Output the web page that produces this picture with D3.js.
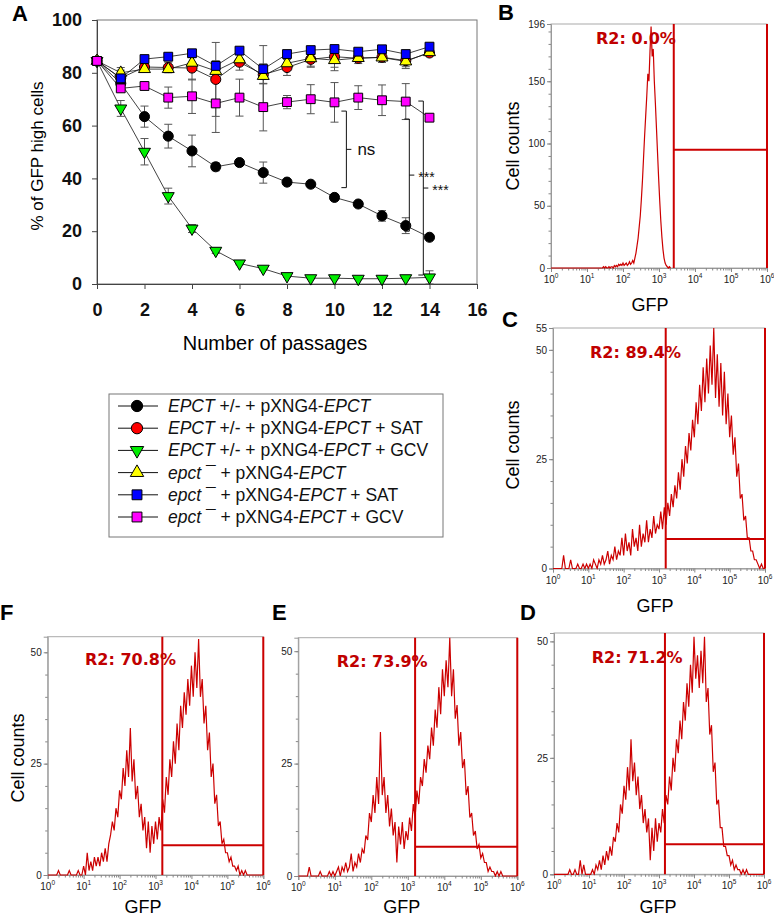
<!DOCTYPE html>
<html><head><meta charset="utf-8">
<script src="https://cdn.jsdelivr.net/npm/d3@7"></script>
<style>body{margin:0;background:#fff} svg{display:block}</style>
</head><body>
<svg id="fig" width="774" height="920"></svg>
<script>
// ---------------- DATA: panel A ----------------
const passages = [0,1,2,3,4,5,6,7,8,9,10,11,12,13,14];
const xTicksA = [0,2,4,6,8,10,12,14,16];
const yTicksA = [0,20,40,60,80,100];
const blackVals   = [84.5,76,63.4,56,50.4,44.4,46,42.2,38.6,37.8,32.8,30.3,25.8,22.1,17.7];
const blackErr    = [0,0,4,4.5,6,1.5,0.5,4,0.5,0.5,0.5,0.5,2,3,0.5];
const redVals     = [84.5,78,82.2,82,81.8,77.5,84,79.3,82,85.1,86.1,85.5,85.9,84.6,87.5];
const redErr      = [0,3,2,2,4.5,14,3,11,3,3,4,2,2,3,1];
const greenVals   = [84.5,66.5,50.1,33.3,21,12.6,7.8,5.8,3,2.2,2.2,2,2,2.2,2.5];
const greenErr    = [0,3,5,3,1.5,1,0.5,0.5,0.5,0.3,0.3,0.3,0.3,0.3,2.5];
const yellowVals  = [84.5,80,81.4,81.4,83.8,80.7,85.1,78.8,83.6,85.5,84.8,85.6,85.8,84.3,87.8];
const yellowErr   = [0,2,1,1,2,3,2,3,2,3,4,1,1,2,1];
const blueVals    = [84.5,77.9,85.2,86.1,87.4,82.6,88.4,81.4,87.1,88.6,89,88,88.9,87.1,89.9];
const blueErr     = [0,2,1,1,1,2,1,2,1,1,1,1,1,1,1];
const magentaVals = [84.5,74.1,75,70.6,71.1,68.4,70.6,67,68.9,70,68.8,70.6,69.6,69.1,63];
const magentaErr  = [0,1,0,4,6.5,11,7,9,2.5,5.5,7.5,4.5,5.8,6.8,0];
const legendLabels = [
  [["EPCT",1],[" +/- + pXNG4-",0],["EPCT",1]],
  [["EPCT",1],[" +/- + pXNG4-",0],["EPCT",1],[" + SAT",0]],
  [["EPCT",1],[" +/- + pXNG4-",0],["EPCT",1],[" + GCV",0]],
  [["epct",1],[" \u00AF",0],[" + pXNG4-",0],["EPCT",1]],
  [["epct",1],[" \u00AF",0],[" + pXNG4-",0],["EPCT",1],[" + SAT",0]],
  [["epct",1],[" \u00AF",0],[" + pXNG4-",0],["EPCT",1],[" + GCV",0]]
];
const bracketX = [10.5, 13.15, 13.74];
const bracketTop = [65.5, 62.5, 69.3];
const bracketBottom = [36.5, 20, 3.4];
const bracketLabels = ["ns","***","***"];

// ---------------- DATA: flow histograms (counts per log10 bin) ----------------
const bCounts = [0,0,1,0,1,0,0,1,0,1,1,0,2,1,2,1,3,2,3,2,4,2,3,4,2,3,5,3,4,6,4,
  8,12,18,24,33,42,55,70,88,106,122,138,156,150,174,194,170,176,150,132,112,92,72,54,38,25,15,8,4,2,1,0,1,0];
const cCounts = [0,0,0,0,0,0,
  3,0,0,0,2,0,0,0,1,0,0,1,0,1,
  0,1,0,2,1,0,2,1,3,1,2,4,1,3,2,5,2,4,3,7,
  3,8,4,6,3,9,5,7,4,10,5,8,6,11,6,9,7,12,8,10,
  9,13,9,14,10,15,12,17,14,19,16,22,18,25,21,28,24,31,27,34,
  30,38,33,42,36,46,38,48,40,51,42,55,39,49,37,47,35,45,33,40,
  30,35,26,30,21,24,16,17,11,12,7,7,4,4,2,2,1,0,1,0,
  0];
const dCounts = [0,0,0,0,0,0,
  0,0,0,1,0,0,1,0,0,3,0,2,0,0,
  0,0,1,0,2,1,3,1,4,2,5,3,6,4,8,7,11,9,15,13,
  19,16,23,18,29,20,24,17,21,14,17,11,14,9,12,3,10,5,12,7,
  11,9,14,11,17,15,21,18,25,22,29,26,33,29,37,33,41,36,45,39,
  51,42,47,40,48,41,51,37,40,30,32,22,24,15,16,10,10,6,6,4,
  4,2,3,1,2,1,1,0,1,0,1,0,0,0,0,0,0,0,0,0,
  0];
const eCounts = [0,0,0,0,0,0,
  2,0,0,0,0,0,1,0,0,0,0,1,0,1,
  0,1,2,0,2,1,3,1,2,5,1,3,2,5,3,6,5,9,8,14,
  12,18,14,22,16,32,18,22,14,18,11,15,9,12,3,11,7,12,6,10,
  8,13,10,16,13,19,16,22,20,26,23,29,26,33,29,37,33,42,36,46,
  40,48,42,53,40,46,35,38,29,32,24,26,18,20,13,14,9,10,6,7,
  4,5,3,3,1,2,1,1,0,1,0,1,0,0,0,0,0,0,0,0,
  0];
const fCounts = [0,0,0,0,0,0,
  1,0,0,0,0,0,1,0,0,0,0,1,0,0,
  2,0,5,1,3,1,4,2,4,2,5,3,6,3,7,9,12,10,15,13,
  19,17,24,20,28,22,33,21,26,17,20,13,16,10,13,6,12,5,11,7,
  12,8,13,10,17,14,22,18,26,22,30,25,34,28,38,33,41,36,44,38,
  47,40,50,42,53,40,44,34,38,28,32,22,25,16,18,11,12,7,8,5,
  5,3,4,2,2,1,2,0,1,0,1,0,0,0,0,0,0,0,0,0,
  0];
const logDecades = [0,1,2,3,4,5,6];

// ---------------- DRAWING ----------------
const svg = d3.select("#fig");
const FONT = "Arial, 'Liberation Sans', Helvetica, sans-serif";
const RED = "#cc0000";

// ===== Panel A =====
const xA = d3.scaleLinear().domain([0,16]).range([97,477]);
const yA = d3.scaleLinear().domain([0,100]).range([284,20]);
const gA = svg.append("g");
gA.append("rect").attr("x",xA(0)).attr("y",yA(100)).attr("width",xA(16)-xA(0)).attr("height",yA(0)-yA(100))
  .attr("fill","none").attr("stroke","#777").attr("stroke-width",1);
const axYA = gA.append("g").attr("transform",`translate(${xA(0)},0)`)
  .call(d3.axisLeft(yA).tickValues(yTicksA).tickSize(5).tickPadding(10));
const axXA = gA.append("g").attr("transform",`translate(0,${yA(0)})`)
  .call(d3.axisBottom(xA).tickValues(xTicksA).tickSize(5).tickPadding(14));
[axYA,axXA].forEach(a=>{
  a.selectAll("text").attr("font-family",FONT).attr("font-size",18).attr("font-weight","bold").attr("fill","#111");
  a.select(".domain").attr("stroke","#444");
  a.selectAll(".tick line").attr("stroke","#444");
});
gA.append("text").attr("x",(xA(0)+xA(16))/2 - 12).attr("y",350).attr("text-anchor","middle")
  .attr("font-family",FONT).attr("font-size",20).text("Number of passages");
gA.append("text").attr("transform",`translate(43,${(yA(0)+yA(100))/2 + 4}) rotate(-90)`).attr("text-anchor","middle")
  .attr("font-family",FONT).attr("font-size",17).text("% of GFP high cells");
svg.append("text").attr("x",12).attr("y",21).attr("font-family",FONT).attr("font-size",22).attr("font-weight","bold").text("A");

const seriesA = [
  {vals:blackVals, err:blackErr, fill:"#000000", sym:d3.symbolCircle, size:80, rot:0},
  {vals:greenVals, err:greenErr, fill:"#00ee00", sym:d3.symbolTriangle, size:62, rot:180},
  {vals:redVals, err:redErr, fill:"#ff0000", sym:d3.symbolCircle, size:80, rot:0},
  {vals:yellowVals, err:yellowErr, fill:"#ffff00", sym:d3.symbolTriangle, size:62, rot:0},
  {vals:blueVals, err:blueErr, fill:"#0000ff", sym:d3.symbolSquare, size:78, rot:0},
  {vals:magentaVals, err:magentaErr, fill:"#ff00ff", sym:d3.symbolSquare, size:78, rot:0}
];
const lineA = d3.line().x((d,i)=>xA(passages[i])).y(d=>yA(d));
seriesA.forEach(s=>{
  const g = gA.append("g").attr("stroke","#555").attr("stroke-width",1);
  s.vals.forEach((v,i)=>{
    const e = s.err[i]; if(!e) return;
    const cx = xA(passages[i]);
    g.append("line").attr("x1",cx).attr("x2",cx).attr("y1",yA(v-e)).attr("y2",yA(v+e));
    g.append("line").attr("x1",cx-4).attr("x2",cx+4).attr("y1",yA(v-e)).attr("y2",yA(v-e));
    g.append("line").attr("x1",cx-4).attr("x2",cx+4).attr("y1",yA(v+e)).attr("y2",yA(v+e));
  });
});
seriesA.forEach(s=>{
  gA.append("path").attr("d",lineA(s.vals)).attr("fill","none").attr("stroke","#111").attr("stroke-width",0.8);
});
seriesA.forEach(s=>{
  gA.append("g").selectAll("path").data(s.vals).join("path")
    .attr("d",d3.symbol().type(s.sym).size(s.size))
    .attr("transform",(d,i)=>`translate(${xA(passages[i])},${yA(d)}) rotate(${s.rot})`)
    .attr("fill",s.fill).attr("stroke","#000").attr("stroke-width",1);
});
bracketX.forEach((bx,i)=>{
  const x = xA(bx), y0 = yA(bracketTop[i]), y1 = yA(bracketBottom[i]), ym = (y0+y1)/2;
  gA.append("path").attr("d",`M${x-5},${y0}H${x}V${y1}H${x-5}M${x},${ym}H${x+5}`)
    .attr("fill","none").attr("stroke","#111").attr("stroke-width",1);
  const big = bracketLabels[i]==="ns";
  gA.append("text").attr("x",x+(big?11:9)).attr("y",ym+(big?6:7)).attr("font-family",FONT)
    .attr("font-size",big?17:14).attr("fill","#111").text(bracketLabels[i]);
});
const legX = 109, legY = 394, rowH = 22.2;
gA.append("rect").attr("x",legX).attr("y",legY).attr("width",334).attr("height",143)
  .attr("fill","#fff").attr("stroke","#777");
[0,1,2,3,4,5].forEach(k=>{
  const order = [0,2,1,3,4,5][k];
  const s = seriesA[order];
  const cy = legY + 12 + rowH*k;
  gA.append("line").attr("x1",legX+9).attr("x2",legX+49).attr("y1",cy).attr("y2",cy).attr("stroke","#111");
  gA.append("path").attr("d",d3.symbol().type(s.sym).size(s.size*1.25)()).attr("transform",`translate(${legX+28},${cy}) rotate(${s.rot})`)
    .attr("fill",s.fill).attr("stroke","#000");
  const t = gA.append("text").attr("x",legX+59).attr("y",cy+6).attr("font-family",FONT).attr("font-size",17.5).attr("fill","#111");
  legendLabels[k].forEach(p=>t.append("tspan").attr("font-style",p[1]?"italic":"normal").text(p[0]));
});

// ===== Flow panels =====
const flowPanels = [
  {label:"B", counts:bCounts, startLog:1.40, stepLog:0.03, ymax:196, yMajor:[0,50,100,150,196], yMinorStep:10,
   gateLog:3.41, gateLevel:95, r2:"R2: 0.0%", box:[551,24,767,268], labelPos:[498,20], r2Pos:[596,44], cellPos:[513,146], gfpPos:[650,311]},
  {label:"C", counts:cCounts, startLog:0, stepLog:0.05, ymax:55, yMajor:[0,25,50,55], yMinorStep:5,
   gateLog:3.19, gateLevel:6.75, r2:"R2: 89.4%", box:[553,328,765,568.5], labelPos:[502,327], r2Pos:[590,358], cellPos:[513,445], gfpPos:[655,612]},
  {label:"D", counts:dCounts, startLog:0, stepLog:0.05, ymax:51.8, yMajor:[0,25,50], yMinorStep:5,
   gateLog:3.17, gateLevel:6.45, r2:"R2: 71.2%", box:[554,633,764,874.3], labelPos:[520,620], r2Pos:[591.7,663], cellPos:null, gfpPos:[658,913]},
  {label:"E", counts:eCounts, startLog:0, stepLog:0.05, ymax:53, yMajor:[0,25,50], yMinorStep:5,
   gateLog:3.2, gateLevel:6.5, r2:"R2: 73.9%", box:[298.3,637.7,517.3,876], labelPos:[272,620], r2Pos:[336.7,666.7], cellPos:null, gfpPos:[401.7,913]},
  {label:"F", counts:fCounts, startLog:0, stepLog:0.05, ymax:53.5, yMajor:[0,25,50], yMinorStep:5,
   gateLog:3.19, gateLevel:6.7, r2:"R2: 70.8%", box:[47.7,636.7,263.3,875], labelPos:[0,620], r2Pos:[85,665], cellPos:[18,758], gfpPos:[143,913]}
];

flowPanels.forEach((p,pi)=>{
  const [l,t,r,b] = p.box;
  const x = d3.scaleLog().domain([1,1e6]).range([l,r]);
  const y = d3.scaleLinear().domain([0,p.ymax]).range([b,t]);
  const g = svg.append("g");
  const cid = "clip"+pi;
  g.append("clipPath").attr("id",cid).append("rect").attr("x",l).attr("y",t-1).attr("width",r-l+1).attr("height",b-t+2);
  g.append("rect").attr("x",l).attr("y",t).attr("width",r-l).attr("height",b-t).attr("fill","none").attr("stroke","#aaa");
  const ay = g.append("g").attr("transform",`translate(${l},0)`)
    .call(d3.axisLeft(y).tickValues(p.yMajor).tickSize(4).tickPadding(2).tickFormat(d3.format("d")));
  ay.selectAll("text").attr("font-family",FONT).attr("font-size",10).attr("fill","#222");
  const ym = g.append("g").attr("transform",`translate(${l},0)`)
    .call(d3.axisLeft(y).tickValues(d3.range(0,p.ymax,p.yMinorStep)).tickSize(2.5).tickFormat(""));
  ym.select(".domain").remove();
  const ax = g.append("g").attr("transform",`translate(0,${b})`)
    .call(d3.axisBottom(x).tickValues(logDecades.map(k=>Math.pow(10,k))).tickSize(4).tickFormat(""));
  const minors = [];
  logDecades.slice(0,-1).forEach(k=>{ for(let m=2;m<10;m++) minors.push(m*Math.pow(10,k)); });
  const axm = g.append("g").attr("transform",`translate(0,${b})`)
    .call(d3.axisBottom(x).tickValues(minors).tickSize(2.5).tickFormat(""));
  axm.select(".domain").remove();
  [ay,ym,ax,axm].forEach(a=>{ a.selectAll(".domain").attr("stroke","#999"); a.selectAll(".tick line").attr("stroke","#888"); });
  logDecades.forEach(k=>{
    const tx = g.append("text").attr("x",x(Math.pow(10,k))).attr("y",b+15).attr("text-anchor","middle")
      .attr("font-family",FONT).attr("font-size",10).attr("fill","#222");
    tx.append("tspan").text("10");
    tx.append("tspan").attr("dy",-5).attr("font-size",6.5).text(k);
  });
  g.append("line").attr("x1",x(1)).attr("x2",x(Math.pow(10,p.startLog))).attr("y1",y(0)).attr("y2",y(0))
    .attr("stroke",RED).attr("stroke-width",1.2);
  const hl = d3.line().x((d,i)=>x(Math.pow(10,p.startLog+i*p.stepLog))).y(d=>y(d));
  g.append("path").attr("d",hl(p.counts)).attr("clip-path",`url(#${cid})`)
    .attr("fill","none").attr("stroke",RED).attr("stroke-width",1.2).attr("stroke-linejoin","miter");
  const gx0 = x(Math.pow(10,p.gateLog)), gx1 = x(1e6);
  g.append("path").attr("d",`M${gx0},${y(0)}V${t}M${gx1},${y(0)}V${t}M${gx0},${y(p.gateLevel)}H${gx1}`)
    .attr("fill","none").attr("stroke",RED).attr("stroke-width",2);
  g.append("text").attr("x",p.r2Pos[0]).attr("y",p.r2Pos[1]).attr("font-family","'DejaVu Sans', Verdana, sans-serif")
    .attr("font-weight","bold").attr("font-size",16).attr("fill","#c00000").text(p.r2);
  g.append("text").attr("x",p.labelPos[0]).attr("y",p.labelPos[1]).attr("font-family",FONT).attr("font-weight","bold")
    .attr("font-size",22).text(p.label);
  if(p.cellPos) g.append("text").attr("transform",`translate(${p.cellPos[0]+6},${p.cellPos[1]}) rotate(-90)`).attr("text-anchor","middle")
    .attr("font-family",FONT).attr("font-size",18).text("Cell counts");
  g.append("text").attr("x",p.gfpPos[0]).attr("y",p.gfpPos[1]).attr("text-anchor","middle")
    .attr("font-family",FONT).attr("font-size",18).text("GFP");
});
</script>
</body></html>
